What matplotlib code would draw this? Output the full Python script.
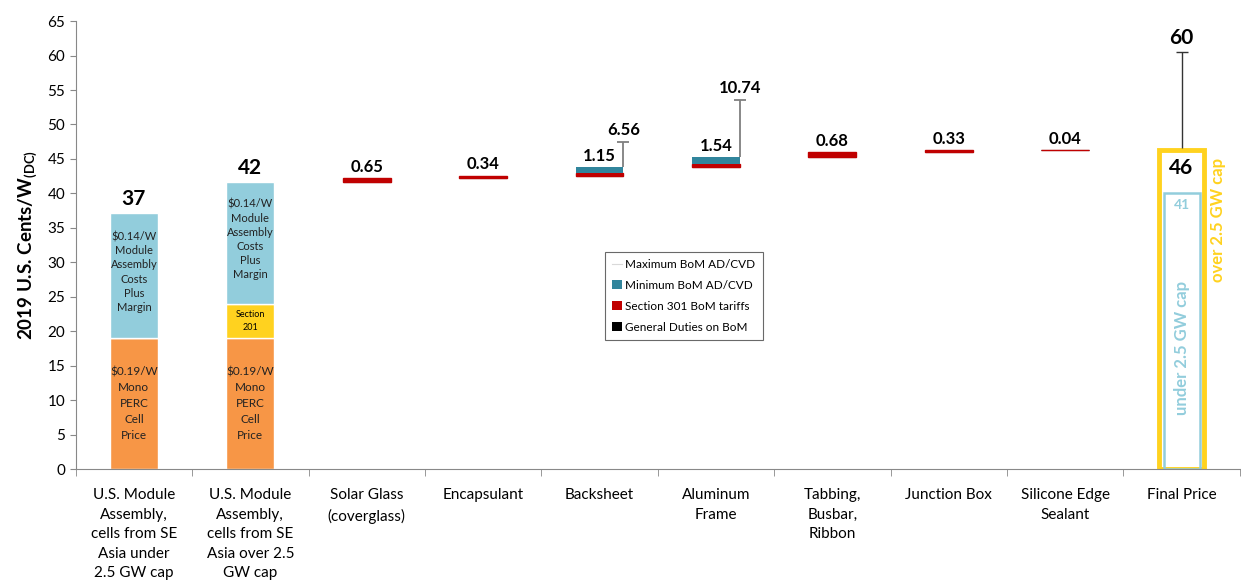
import matplotlib
matplotlib.use('Agg')
import matplotlib.pyplot as plt
import numpy as np
from matplotlib.patches import Patch
from matplotlib.lines import Line2D

plt.rcParams['font.family'] = ['Lato', 'DejaVu Sans']
plt.rcParams['mathtext.fontset'] = 'custom'
plt.rcParams['mathtext.rm'] = 'Lato'
plt.rcParams['mathtext.bf'] = 'Lato:bold'

# ---- data ----
categories = ['U.S. Module\nAssembly,\ncells from SE\nAsia under\n2.5 GW cap',
              'U.S. Module\nAssembly,\ncells from SE\nAsia over 2.5\nGW cap',
              'Solar Glass\n(coverglass)', 'Encapsulant', 'Backsheet',
              'Aluminum\nFrame', 'Tabbing,\nBusbar,\nRibbon', 'Junction Box',
              'Silicone Edge\nSealant', 'Final Price']

cell_price = [19.0, 19.0]
section_201 = [0.0, 5.0]
assembly = [18.2, 17.6]
module_labels = ['37', '42']

general_duties = [0.1, 0, 0, 0, 0, 0, 0]
section_301 = [0.55, 0.34, 0.35, 0.45, 0.68, 0.33, 0.04]
min_adcvd = [0, 0, 0.9, 1.0, 0, 0, 0]
max_adcvd_whisker = [0, 0, 3.6, 8.3, 0, 0, 0]
bom_labels = ['0.65', '0.34', '1.15', '1.54', '0.68', '0.33', '0.04']
max_labels = ['', '', '6.56', '10.74', '', '', '']

final_over = 46.3
final_under = 40.0
final_max = 60.5
final_labels = ['46', '41', '60']

ORANGE = '#F79646'
LBLUE = '#92CDDC'
YELLOW = '#FFD21F'
TEAL = '#31859C'
RED = '#C00000'


def whisker(ax, x, y0, y1, color, lw):
    # vertical line with a cap on top only
    ax.plot([x, x], [y0, y1], color=color, lw=lw, solid_capstyle='butt')
    ax.plot([x], [y1], marker='_', ms=9, mew=lw, color=color)


fig = plt.figure(figsize=(12.41, 5.87), dpi=100)
ax = fig.add_axes([0.061, 0.201, 0.938, 0.763])

w = 0.41
x_mod = np.arange(2)
ax.bar(x_mod, cell_price, w, color=ORANGE, edgecolor='white', linewidth=1)
ax.bar(x_mod, section_201, w, bottom=cell_price, color=YELLOW, edgecolor='white', linewidth=1)
b2 = np.array(cell_price) + np.array(section_201)
ax.bar(x_mod, assembly, w, bottom=b2, color=LBLUE, edgecolor='white', linewidth=1)
totals = b2 + np.array(assembly)
for i in x_mod:
    ax.text(i, totals[i] + 0.6, module_labels[i], ha='center', va='bottom',
            fontsize=15, fontweight='bold')
    ax.text(i, cell_price[i] / 2, '$0.19/W\nMono\nPERC\nCell\nPrice', ha='center',
            va='center', fontsize=8.5, linespacing=1.55, color='#222222')
    ax.text(i, b2[i] + assembly[i] / 2 + 0.5, '$0.14/W\nModule\nAssembly\nCosts\nPlus\nMargin',
            ha='center', va='center', fontsize=8, linespacing=1.35, color='#222222')
ax.text(1, cell_price[1] + section_201[1] / 2, 'Section\n201', ha='center', va='center',
        fontsize=6.5, linespacing=1.6)

# waterfall of BoM costs
x_bom = np.arange(2, 9)
gd = np.array(general_duties)
s301 = np.array(section_301)
mad = np.array(min_adcvd)
steps = gd + s301 + mad
bases = totals[1] + np.concatenate([[0], np.cumsum(steps)[:-1]])
ax.bar(x_bom, gd, w, bottom=bases, color='black', edgecolor='black', linewidth=0.8)
ax.bar(x_bom, s301, w, bottom=bases + gd, color=RED, edgecolor=RED, linewidth=1.0)
ax.bar(x_bom, mad, w, bottom=bases + gd + s301, color=TEAL, linewidth=0)
tops = bases + steps
for k, x in enumerate(x_bom):
    if max_adcvd_whisker[k] > 0:
        xe = x + w / 2
        whisker(ax, xe, tops[k], tops[k] + max_adcvd_whisker[k], '#7f7f7f', 1.3)
        ax.text(xe, tops[k] + max_adcvd_whisker[k] + 0.6, max_labels[k], ha='center',
                va='bottom', fontsize=12, fontweight='bold')
    ax.text(x, tops[k] + 0.45, bom_labels[k], ha='center', va='bottom', fontsize=12,
            fontweight='bold')

# final price
ax.bar(9, final_over, 0.385, facecolor='none', edgecolor=YELLOW, linewidth=3.5)
ax.bar(9, final_under, 0.31, facecolor='none', edgecolor=LBLUE, linewidth=1.8)
whisker(ax, 9, final_over + 0.3, final_max, '#333333', 1)
ax.text(9, final_max + 0.6, final_labels[2], ha='center', va='bottom', fontsize=15,
        fontweight='bold')
ax.text(9, final_over - 2.6, final_labels[0], ha='center', va='center', fontsize=15,
        fontweight='bold')
ax.text(9, final_under - 1.7, final_labels[1], ha='center', va='center', fontsize=10,
        fontweight='bold', color=LBLUE)
ax.text(9, 17.5, 'under 2.5 GW cap', rotation=90, ha='center', va='center',
        fontsize=12, fontweight='bold', color=LBLUE)
ax.text(9.31, 36.2, 'over 2.5 GW cap', rotation=90, ha='center', va='center',
        fontsize=12, fontweight='bold', color=YELLOW)

# legend
handles = [Line2D([0], [0], color='#d9d9d9', lw=0.8, label='Maximum BoM AD/CVD'),
           Patch(facecolor=TEAL, label='Minimum BoM AD/CVD'),
           Patch(facecolor=RED, label='Section 301 BoM tariffs'),
           Patch(facecolor='black', label='General Duties on BoM')]
leg = ax.legend(handles=handles, loc='upper left', bbox_to_anchor=(0.455, 0.485),
                fontsize=8.5, frameon=True, fancybox=False, handlelength=0.8,
                handleheight=0.8, handletextpad=0.3, labelspacing=0.85,
                borderpad=0.6, borderaxespad=0)
leg.get_frame().set_edgecolor('#444444')
leg.get_frame().set_linewidth(0.8)

# axes styling
ax.set_xlim(-0.5, 9.5)
ax.set_ylim(0, 65)
ax.set_yticks(np.arange(0, 66, 5))
ax.tick_params(axis='y', labelsize=11, length=4, color='#888888')
ax.set_xticks(np.arange(10))
ax.set_xticklabels(categories, fontsize=11, linespacing=1.5)
ax.tick_params(axis='x', length=0, pad=14)
ax.set_xticks(np.arange(-0.5, 10, 1), minor=True)
ax.tick_params(axis='x', which='minor', length=5, color='#888888')
for s in ['top', 'right']:
    ax.spines[s].set_visible(False)
for s in ['left', 'bottom']:
    ax.spines[s].set_color('#888888')
ax.set_ylabel(r'2019 U.S. Cents/W$_{\mathbf{(DC)}}$', fontsize=13.5, fontweight='bold',
              labelpad=6)

fig.savefig('out.png', dpi=100)
